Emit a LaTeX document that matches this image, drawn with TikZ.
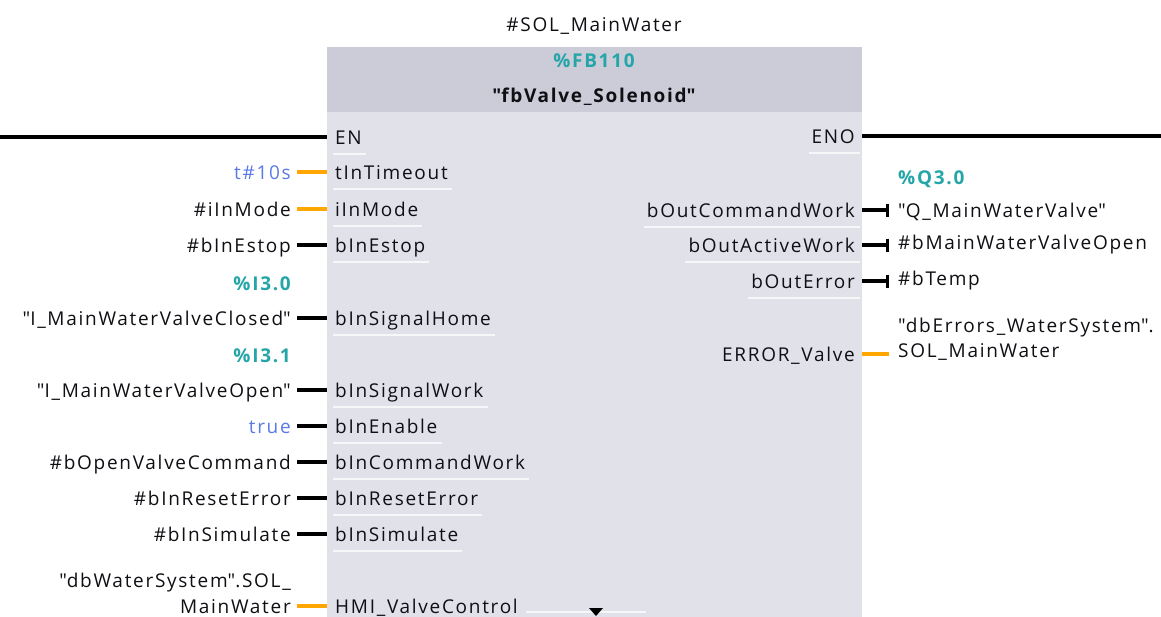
\documentclass[tikz,border=0pt]{standalone}
\usepackage{fontspec}
\setmainfont{Open Sans}[LetterSpace=9]
\usetikzlibrary{arrows.meta}
\definecolor{txt}{RGB}{15,15,20}
\definecolor{teal}{RGB}{36,166,168}
\definecolor{valblue}{RGB}{92,122,230}
\definecolor{wireor}{RGB}{255,166,0}
\definecolor{bodyc}{RGB}{225,225,233}
\definecolor{hdrc}{RGB}{203,204,216}
\newcommand{\qq}{\textquotedbl}
\begin{document}
\begin{tikzpicture}[x=1pt,y=-1pt,
  font=\fontsize{19}{22}\selectfont,
  base/.style={inner ysep=0pt, text height=16pt, text depth=2pt, text=txt},
  pinL/.style={base, anchor=west, inner xsep=8pt},
  pinR/.style={base, anchor=east, inner xsep=7pt},
  extL/.style={base, anchor=east, inner xsep=6pt},
  extR/.style={base, anchor=west, inner xsep=9pt},
  addr/.style={font=\fontsize{19}{22}\selectfont\bfseries, text=teal},
  bval/.style={text=valblue},
  bw/.style={draw=black, line width=3.2pt},
  ow/.style={draw=wireor, line width=3.4pt},
  outw/.style={bw, -{Bar[width=13pt,line width=3pt]}},
  sep/.style={draw=white, line width=1.6pt, opacity=0.75}
]
\useasboundingbox (0,0) rectangle (1161,616);
\clip (0,0) rectangle (1161,616);
\fill[white] (0,0) rectangle (1161,616);

% block
\node[fill=bodyc, draw=none, minimum width=535pt, minimum height=590pt, anchor=north west, inner sep=0pt] (fb) at (327,47) {};
\node[fill=hdrc, draw=none, minimum width=535pt, minimum height=65pt, anchor=north west, inner sep=0pt] (hdr) at (327,47) {};
\node[base, anchor=center] (inst) at (594,24) {\#SOL\_MainWater};
\node[base, addr, anchor=center] (fbno) at (594,60) {\%FB110};
\node[base, font=\fontsize{19}{22}\selectfont\bfseries, anchor=center] (fbname) at (594,95) {\qq fbValve\_Solenoid\qq};

% EN / ENO
\coordinate (enL) at (0,137);
\coordinate (enoR) at (1161,136);
\node[pinL] (pEN) at (327,137) {EN};
\node[pinR] (pENO) at (862,136) {ENO};
\draw[line width=3.4pt] (enL) -- (pEN.west);
\draw[line width=3.4pt] (pENO.east) -- (enoR);

% left pins
\node[pinL] (pT) at (327,172) {tInTimeout};
\node[pinL] (pM) at (327,209) {iInMode};
\node[pinL] (pE) at (327,245) {bInEstop};
\node[pinL] (pSH) at (327,318) {bInSignalHome};
\node[pinL] (pSW) at (327,390) {bInSignalWork};
\node[pinL] (pEn) at (327,426) {bInEnable};
\node[pinL] (pCW) at (327,462) {bInCommandWork};
\node[pinL] (pRE) at (327,498) {bInResetError};
\node[pinL] (pSim) at (327,534) {bInSimulate};
\node[pinL] (pHMI) at (327,606) {HMI\_ValveControl};

% left actuals
\node[extL, bval] (xT) at (297,172) {t\#10s};
\node[extL] (xM) at (297,209) {\#iInMode};
\node[extL] (xE) at (297,245) {\#bInEstop};
\node[extL, addr] (aSH) at (297,283) {\%I3.0};
\node[extL] (xSH) at (297,318) {\qq I\_MainWaterValveClosed\qq};
\node[extL, addr] (aSW) at (297,355) {\%I3.1};
\node[extL] (xSW) at (297,390) {\qq I\_MainWaterValveOpen\qq};
\node[extL, bval] (xEn) at (297,426) {true};
\node[extL] (xCW) at (297,462) {\#bOpenValveCommand};
\node[extL] (xRE) at (297,498) {\#bInResetError};
\node[extL] (xSim) at (297,534) {\#bInSimulate};
\node[extL] (xHMIa) at (297,580) {\qq dbWaterSystem\qq.SOL\_};
\node[extL] (xHMI) at (297,606) {MainWater};

\draw[ow] (xT.east) -- (pT.west);
\draw[ow] (xM.east) -- (pM.west);
\draw[bw] (xE.east) -- (pE.west);
\draw[bw] (xSH.east) -- (pSH.west);
\draw[bw] (xSW.east) -- (pSW.west);
\draw[bw] (xEn.east) -- (pEn.west);
\draw[bw] (xCW.east) -- (pCW.west);
\draw[bw] (xRE.east) -- (pRE.west);
\draw[bw] (xSim.east) -- (pSim.west);
\draw[ow] (xHMI.east) -- (pHMI.west);

% right pins
\node[pinR] (qCW) at (862,210) {bOutCommandWork};
\node[pinR] (qAW) at (862,245) {bOutActiveWork};
\node[pinR] (qErr) at (862,281) {bOutError};
\node[pinR] (qEV) at (862,354) {ERROR\_Valve};

% right actuals
\node[extR, addr] (aQ) at (889,177) {\%Q3.0};
\node[extR] (yCW) at (889,210) {\qq Q\_MainWaterValve\qq};
\node[extR] (yAW) at (889,242) {\#bMainWaterValveOpen};
\node[extR] (yErr) at (889,278) {\#bTemp};
\node[extR] (yEVa) at (889,325) {\qq dbErrors\_WaterSystem\qq.};
\node[extR] (yEV) at (889,350) {SOL\_MainWater};

\draw[outw] (qCW.east) -- (qCW.east -| yCW.west);
\draw[outw] (qAW.east) -- (qAW.east -| yAW.west);
\draw[outw] (qErr.east) -- (qErr.east -| yErr.west);
\draw[ow] (qEV.east) -- (qEV.east -| yEV.west);

% separators
\foreach \n in {pEN,pT,pM,pE,pSH,pSW,pEn,pCW,pRE,pSim}
  \draw[sep] ([xshift=6pt,yshift=-17pt]\n.west) -- ([xshift=-4pt,yshift=-17pt]\n.east);
\foreach \n in {pENO,qCW,qAW,qErr}
  \draw[sep] ([xshift=4pt,yshift=-17pt]\n.west) -- ([xshift=-2pt,yshift=-17pt]\n.east);
\draw[sep] ([yshift=-6pt]pHMI.east) -- ++(120,0);

% expand marker
\coordinate (tri) at (596,616);
\fill[black] (tri) -- ++(-7,-8) -- ++(14,0) -- cycle;
\end{tikzpicture}
\end{document}
